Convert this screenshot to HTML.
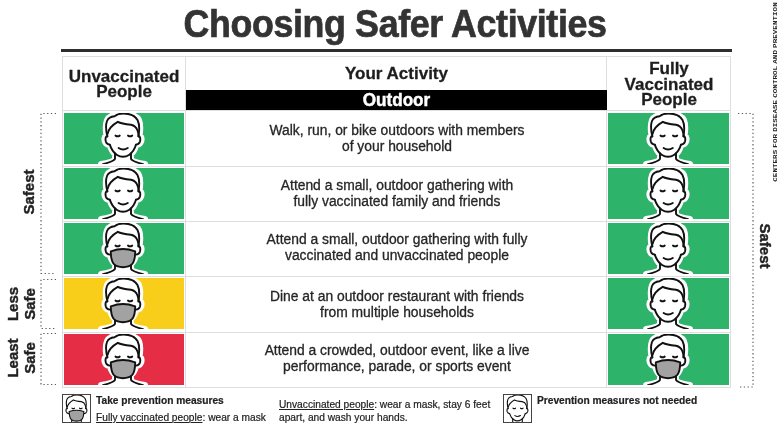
<!DOCTYPE html>
<html><head><meta charset="utf-8">
<style>
html,body{margin:0;padding:0;background:#fff;}
body{width:780px;height:438px;position:relative;overflow:hidden;filter:blur(0.3px);font-family:"Liberation Sans",sans-serif;color:#222;}
.a{position:absolute;}
.title{left:395px;top:1.5px;white-space:nowrap;font-weight:bold;font-size:38.5px;line-height:44px;color:#333;transform:translateX(-50%) scaleX(0.93);letter-spacing:-0.4px;-webkit-text-stroke:0.7px #333;}
.rule{left:61px;top:49px;width:671px;height:3px;background:#2e2e2e;}
.hl{background:#dedede;height:1px;}
.vl{background:#dedede;width:1px;}
.hd{font-weight:bold;font-size:17px;line-height:15.5px;text-align:center;color:#1e1e1e;-webkit-text-stroke:0.3px #1e1e1e;}
.cell{width:120px;height:51px;}
.g{background:#2db36a;}
.y{background:#f9ce1b;}
.r{background:#e52d45;}
.txt{left:187px;width:420px;text-align:center;font-size:13.85px;line-height:16.5px;color:#262626;-webkit-text-stroke:0.3px #262626;}
.lab{font-weight:bold;font-size:15px;line-height:17px;color:#222;white-space:nowrap;-webkit-text-stroke:0.4px #222;}
.dot{border:0 dotted #555;}
.leg{font-size:10.2px;line-height:13px;color:#222;white-space:nowrap;-webkit-text-stroke:0.2px #222;}
.legb{font-weight:bold;}
.box{border:1.5px solid #444;width:27px;height:27px;overflow:hidden;box-sizing:content-box;}
u{text-decoration:underline;text-underline-offset:1px;}
</style></head>
<body>
<svg width="0" height="0" style="position:absolute">
<defs>
<symbol id="sil" viewBox="0 0 120 51">
<path d="M42.5,23 C41.5,17 41,12 43,7 C45,3 52,0.2 59,0.2 C66,0.2 73,3 75,7 C77,12 76.5,17 75.5,23 C77.5,23 78,26 77.2,28.5 C76.3,30.8 74.5,31.8 72.3,31.8 C71,36 69,40 67,41 L67,46 C68,48 73,49.5 81,51 L37,51 C45,49.5 50,48 51,46 L51,41 C49,40 47,36 45.5,31.8 C43.5,31.8 41.7,30.8 40.8,28.5 C40,26 40.5,23 42.5,23 Z" fill="#fff" stroke="#fff" stroke-width="6" stroke-linejoin="round"/>
</symbol>
<symbol id="head" viewBox="0 0 120 51">
<g fill="none" stroke="#111" stroke-width="1.9" stroke-linecap="round" stroke-linejoin="round">
<path d="M43.4,23.5 C42,18 41.5,12 43,8 C44.2,5 46.5,3.6 50.5,3.2 C53,1.2 56,0.5 59.5,0.5 C66,0.5 71,2.5 73.5,7 C75.3,10.5 75.6,17 74.4,23.5"/>
<path d="M43.5,21 C44.5,16 48,12 53.8,8.8 C57,10.5 62,11.2 67,11.8 C70.5,12.5 72.5,14.5 73.5,17.5 C74.2,19.5 74.5,21 74.7,22.5"/>
<path d="M43.3,23.2 C41.6,23 41.1,26 41.8,28.5 C42.5,30.7 44,31.6 45.8,31.6"/>
<path d="M74.5,23.2 C76.2,23 76.7,26 76,28.5 C75.3,30.7 73.8,31.6 72,31.6"/>
<path d="M51,40.5 L51,45.8 C50,48 45,49.5 39,51.2"/>
<path d="M67,40.5 L67,45.8 C68,48 73,49.5 79,51.2"/>
<path d="M51.5,22.6 Q53.6,24 55.7,22.6"/>
<path d="M64,22.6 Q66.1,24 68.2,22.6"/>
</g>
</symbol>
<symbol id="jaw" viewBox="0 0 120 51">
<g fill="none" stroke="#111" stroke-width="1.9" stroke-linecap="round" stroke-linejoin="round">
<path d="M45.8,31.6 C47.2,36 50,40 53,42 C55,43.3 57,43.8 59,43.8 C61,43.8 63,43.3 65,42 C68,40 70.8,36 72,31.6"/>
<path d="M54.6,35 Q59,38 63.8,35"/>
</g>
</symbol>
<symbol id="mask" viewBox="0 0 120 51">
<path d="M46.8,28.3 C50.5,27 55,26 59,26 C63,26 67.5,27 71.2,28.3 C71.2,34 70.5,38.5 68,41.2 C66,43.2 62.5,44.2 59,44.2 C55.5,44.2 52,43.2 50,41.2 C47.5,38.5 46.8,34 46.8,28.3 Z" fill="#a2a2a2" stroke="#111" stroke-width="1.9" stroke-linejoin="round"/>
</symbol>
</defs>
</svg>

<div class="a title">Choosing Safer Activities</div>
<div class="a rule"></div>

<!-- table borders -->
<div class="a hl" style="left:62px;top:56px;width:669px;"></div>
<div class="a hl" style="left:62px;top:110px;width:669px;"></div>
<div class="a hl" style="left:62px;top:166px;width:669px;"></div>
<div class="a hl" style="left:62px;top:221px;width:669px;"></div>
<div class="a hl" style="left:62px;top:276px;width:669px;"></div>
<div class="a hl" style="left:62px;top:332px;width:669px;"></div>
<div class="a hl" style="left:62px;top:387px;width:669px;"></div>
<div class="a vl" style="left:62px;top:56px;height:332px;"></div>
<div class="a vl" style="left:185px;top:56px;height:332px;"></div>
<div class="a vl" style="left:606px;top:56px;height:332px;"></div>
<div class="a vl" style="left:730px;top:56px;height:332px;"></div>

<!-- headers -->
<div class="a hd" style="left:63px;width:122px;top:68.5px;">Unvaccinated<br>People</div>
<div class="a hd" style="left:186px;width:421px;top:65.5px;">Your Activity</div>
<div class="a" style="left:186px;top:89.5px;width:421px;height:20.5px;background:#000;"></div>
<div class="a hd" style="left:186px;width:421px;top:91.5px;color:#fff;font-size:19px;transform:scaleX(0.9);-webkit-text-stroke:0.5px #fff;">Outdoor</div>
<div class="a hd" style="left:608px;width:122px;top:61px;">Fully<br>Vaccinated<br>People</div>

<!-- left cells -->
<div class="a cell g" style="left:64px;top:113px;"></div>
<div class="a cell g" style="left:64px;top:168px;"></div>
<div class="a cell g" style="left:64px;top:223px;"></div>
<div class="a cell y" style="left:64px;top:278px;"></div>
<div class="a cell r" style="left:64px;top:334px;"></div>
<!-- right cells -->
<div class="a cell g" style="width:121px;left:608px;top:113px;"></div>
<div class="a cell g" style="width:121px;left:608px;top:168px;"></div>
<div class="a cell g" style="width:121px;left:608px;top:223px;"></div>
<div class="a cell g" style="width:121px;left:608px;top:278px;"></div>
<div class="a cell g" style="width:121px;left:608px;top:334px;"></div>

<!-- faces left -->
<svg class="a" style="left:64px;top:113px;overflow:hidden" width="120" height="51"><use href="#sil"/><use href="#head"/><use href="#jaw"/></svg>
<svg class="a" style="left:64px;top:168px;overflow:hidden" width="120" height="51"><use href="#sil"/><use href="#head"/><use href="#jaw"/></svg>
<svg class="a" style="left:64px;top:223px;overflow:hidden" width="120" height="51"><use href="#sil"/><use href="#head"/><use href="#mask"/></svg>
<svg class="a" style="left:64px;top:278px;overflow:hidden" width="120" height="51"><use href="#sil"/><use href="#head"/><use href="#mask"/></svg>
<svg class="a" style="left:64px;top:334px;overflow:hidden" width="120" height="51"><use href="#sil"/><use href="#head"/><use href="#mask"/></svg>
<!-- faces right -->
<svg class="a" style="left:608.5px;top:113px;overflow:hidden" width="120" height="51"><use href="#sil"/><use href="#head"/><use href="#jaw"/></svg>
<svg class="a" style="left:608.5px;top:168px;overflow:hidden" width="120" height="51"><use href="#sil"/><use href="#head"/><use href="#jaw"/></svg>
<svg class="a" style="left:608.5px;top:223px;overflow:hidden" width="120" height="51"><use href="#sil"/><use href="#head"/><use href="#jaw"/></svg>
<svg class="a" style="left:608.5px;top:278px;overflow:hidden" width="120" height="51"><use href="#sil"/><use href="#head"/><use href="#jaw"/></svg>
<svg class="a" style="left:608.5px;top:334px;overflow:hidden" width="120" height="51"><use href="#sil"/><use href="#head"/><use href="#mask"/></svg>

<!-- activity texts -->
<div class="a txt" style="top:121.9px;">Walk, run, or bike outdoors with members<br>of your household</div>
<div class="a txt" style="top:176.9px;">Attend a small, outdoor gathering with<br>fully vaccinated family and friends</div>
<div class="a txt" style="top:230.9px;">Attend a small, outdoor gathering with fully<br>vaccinated and unvaccinated people</div>
<div class="a txt" style="top:287.9px;">Dine at an outdoor restaurant with friends<br>from multiple households</div>
<div class="a txt" style="top:341.9px;">Attend a crowded, outdoor event, like a live<br>performance, parade, or sports event</div>

<!-- brackets -->
<svg class="a" style="left:0;top:0" width="780" height="438"><g fill="none" stroke="#5a5a5a" stroke-width="1.2" stroke-dasharray="1.3 2.5">
<path d="M56,113.5 L41,113.5 L41,273.5 L56,273.5"/>
<path d="M56,279.5 L41,279.5 L41,328.5 L56,328.5"/>
<path d="M56,333.5 L41,333.5 L41,384.5 L56,384.5"/>
<path d="M738,113.5 L753,113.5 L753,387 L738,387"/>
</g></svg>
<!-- side labels -->
<div class="a lab" style="left:28px;top:192px;transform:translate(-50%,-50%) rotate(-90deg);">Safest</div>
<div class="a lab" style="left:21px;top:304px;transform:translate(-50%,-50%) rotate(-90deg);text-align:center;">Less<br>Safe</div>
<div class="a lab" style="left:21px;top:358px;transform:translate(-50%,-50%) rotate(-90deg);text-align:center;">Least<br>Safe</div>
<div class="a lab" style="left:765px;top:246px;transform:translate(-50%,-50%) rotate(90deg);">Safest</div>
<div class="a" style="left:774.5px;top:92px;transform:translate(-50%,-50%) rotate(-90deg) scaleY(0.75);font-family:'Liberation Mono',monospace;font-size:7.6px;line-height:8px;white-space:nowrap;font-weight:bold;word-spacing:-2.4px;color:#222;">CENTERS FOR DISEASE CONTROL AND PREVENTION</div>

<!-- legend -->
<div class="a box" style="left:62px;top:393.5px;">
<svg width="27" height="27" viewBox="0 0 27 27" style="display:block"><g transform="translate(-21.9,-0.4) scale(0.6)"><use href="#head" width="120" height="51"/><use href="#mask" width="120" height="51"/></g></svg>
</div>
<div class="a leg legb" style="left:96px;top:394px;">Take prevention measures</div>
<div class="a leg" style="left:96px;top:411px;"><u>Fully vaccinated people</u>: wear a mask</div>
<div class="a leg" style="left:279px;top:398px;"><u>Unvaccinated people</u>: wear a mask, stay 6 feet<br>apart, and wash your hands.</div>
<div class="a box" style="left:503px;top:393.5px;">
<svg width="27" height="27" viewBox="0 0 27 27" style="display:block"><g transform="translate(-21.9,-0.4) scale(0.6)"><use href="#head" width="120" height="51"/><use href="#jaw" width="120" height="51"/></g></svg>
</div>
<div class="a leg legb" style="left:537px;top:394px;">Prevention measures not needed</div>
</body></html>
